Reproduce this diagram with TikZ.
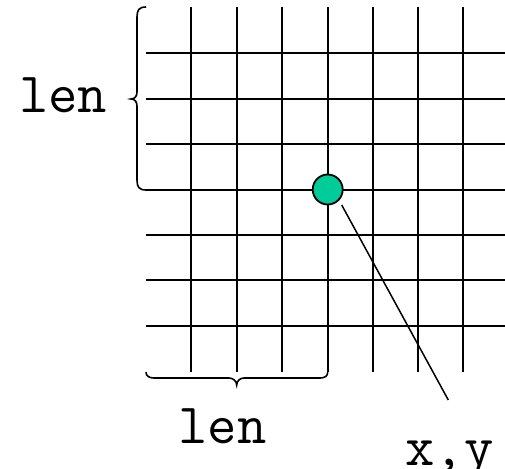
\documentclass[tikz,border=0pt]{standalone}
\definecolor{dotgreen}{HTML}{00CC99}
\begin{document}
\begin{tikzpicture}[x=1pt,y=-1pt,
  gridline/.style={line width=2pt,black},
  bracepath/.style={line width=1.6pt,black},
  lbl/.style={font=\ttfamily\fontsize{57}{57}\selectfont,inner sep=0pt,anchor=base},
  dot/.style={circle,draw=black,line width=1.8pt,fill=dotgreen,minimum size=30pt,inner sep=0pt}]
\useasboundingbox (0,0) rectangle (505,468);
% grid
\foreach \gx in {191.3,236.7,282.0,327.5,372.8,418.1,463.4}
  \draw[gridline] (\gx,7) -- (\gx,372);
\foreach \gy in {53.3,99.0,144.3,190.0,235.0,280.2,325.7}
  \draw[gridline] (146,\gy) -- (505,\gy);
% left brace
\draw[bracepath] (146,190) .. controls (139,190) and (137,187) .. (137,180)
  -- (137,106) .. controls (137,102) and (135,99) .. (131,99)
  .. controls (135,99) and (137,96) .. (137,92)
  -- (137,17) .. controls (137,10) and (139,7) .. (146,7);
% bottom brace
\draw[bracepath] (146,372) .. controls (146,376) and (149,378) .. (154,378)
  -- (229,378) .. controls (233,378) and (236.7,381) .. (236.7,385)
  .. controls (236.7,381) and (240,378) .. (244,378)
  -- (320,378) .. controls (325,378) and (327.7,376) .. (327.7,372);
% point
\node[dot] (p) at (327.7,189.5) {};
\coordinate (s) at (341.7,205);
\coordinate (e) at (448.3,400);
\draw[line width=1.5pt] (s) -- (e);
% labels
\node[lbl] (lenl) at (63.3,112.7) {len};
\node[lbl] (lenb) at (222.5,443.3) {len};
\node[lbl] (xy) at (449.5,465) {x,y};
\end{tikzpicture}
\end{document}
